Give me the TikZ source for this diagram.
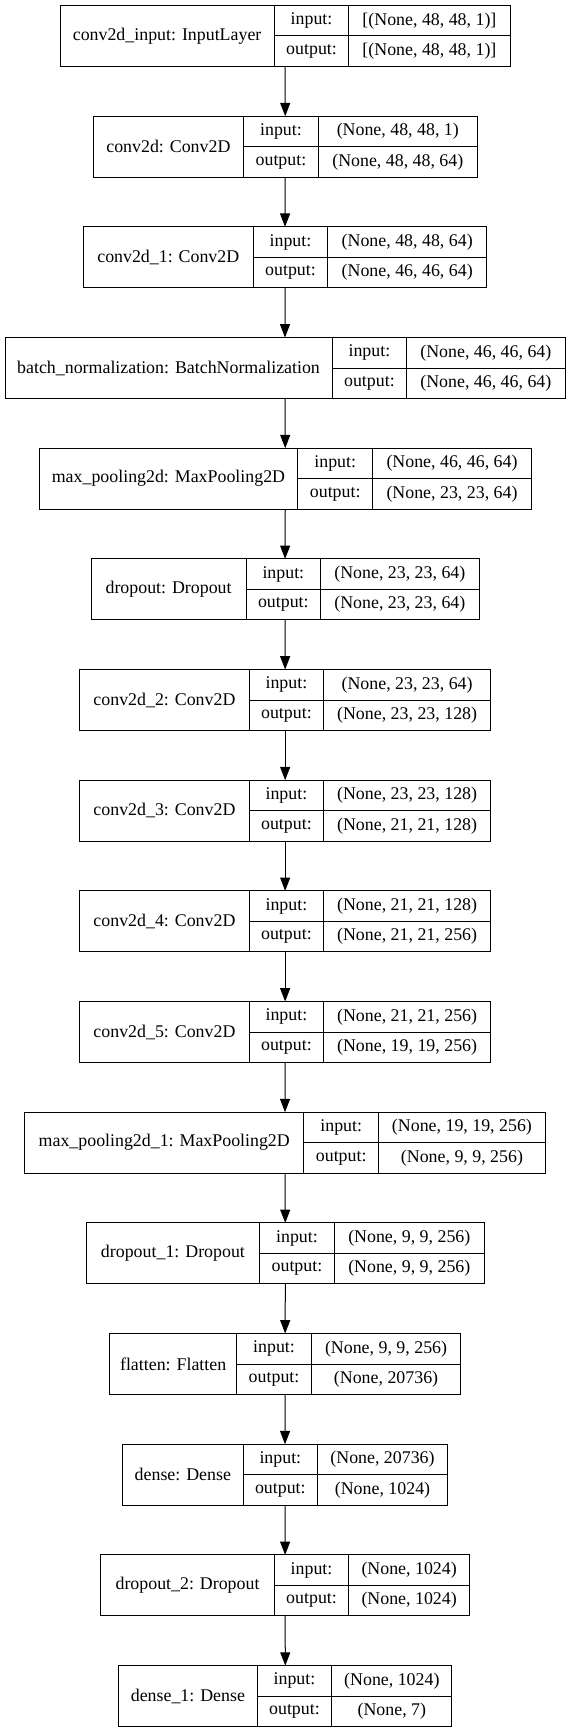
\documentclass[tikz,border=0pt]{standalone}
\usepackage{fontspec}
\setmainfont{Liberation Serif}
\usepackage{tikz}
\usetikzlibrary{positioning,arrows.meta}

% one keras record: name, top, left, divider 1, divider 2, right, label, input, output
\newcommand{\kerasrec}[9]{%
\node[layer, minimum width={(#6-#3)*0.75pt}] (#1) at (#3,#2) {};
\node[cell, minimum width={(#4-#3)*0.75pt}, minimum height=45.75pt, anchor=north west] (#1_name) at (#1.north west) {#7};
\node[cell, minimum width={(#5-#4)*0.75pt}, anchor=north west] (#1_in) at (#1_name.north east) {input:};
\node[cell, minimum width={(#5-#4)*0.75pt}] (#1_out) [below=0pt of #1_in] {output:};
\node[cell, minimum width={(#6-#5)*0.75pt}] (#1_inval) [right=0pt of #1_in] {#8};
\node[cell, minimum width={(#6-#5)*0.75pt}] (#1_outval) [below=0pt of #1_inval] {#9};
}

\begin{document}
\begin{tikzpicture}[
x=0.75pt, y=-0.75pt,
layer/.style={rectangle, draw=black, line width=0.75pt, inner sep=0pt, outer sep=0pt, minimum height=45.75pt, anchor=north west},
cell/.style={rectangle, draw=black, line width=0.75pt, inner sep=0pt, outer sep=0pt, minimum height=22.875pt, font=\fontsize{13.4}{15}\selectfont},
edge/.style={-{Triangle[length=10pt, width=7.5pt]}, line width=0.75pt}
]
\useasboundingbox (0,0) rectangle (571,1733);

%Nodes
\kerasrec{conv2d_input}{5.5}{60}{274.2}{348.9}{510}{conv2d\_input: InputLayer}{[(None, 48, 48, 1)]}{[(None, 48, 48, 1)]}
\kerasrec{conv2d}{116.2}{93.5}{243.3}{318.6}{477}{conv2d: Conv2D}{(None, 48, 48, 1)}{(None, 48, 48, 64)}
\kerasrec{conv2d_1}{226.8}{83.3}{253.3}{327.7}{486.7}{conv2d\_1: Conv2D}{(None, 48, 48, 64)}{(None, 46, 46, 64)}
\kerasrec{batch_norm}{337.5}{5}{332.1}{406.7}{565}{batch\_normalization: BatchNormalization}{(None, 46, 46, 64)}{(None, 46, 46, 64)}
\kerasrec{max_pool}{448.2}{39}{297.9}{372.5}{531.5}{max\_pooling2d: MaxPooling2D}{(None, 46, 46, 64)}{(None, 23, 23, 64)}
\kerasrec{dropout}{558.9}{91}{246.2}{320.5}{479.2}{dropout: Dropout}{(None, 23, 23, 64)}{(None, 23, 23, 64)}
\kerasrec{conv2d_2}{669.5}{79.8}{249.1}{323.7}{490.5}{conv2d\_2: Conv2D}{(None, 23, 23, 64)}{(None, 23, 23, 128)}
\kerasrec{conv2d_3}{780.2}{79.8}{249.1}{323.7}{490.5}{conv2d\_3: Conv2D}{(None, 23, 23, 128)}{(None, 21, 21, 128)}
\kerasrec{conv2d_4}{890.9}{79.8}{249.1}{323.7}{490.5}{conv2d\_4: Conv2D}{(None, 21, 21, 128)}{(None, 21, 21, 256)}
\kerasrec{conv2d_5}{1001.5}{79.8}{249.1}{323.7}{490.5}{conv2d\_5: Conv2D}{(None, 21, 21, 256)}{(None, 19, 19, 256)}
\kerasrec{max_pool_1}{1112.2}{24.8}{303.7}{378.7}{545.2}{max\_pooling2d\_1: MaxPooling2D}{(None, 19, 19, 256)}{(None, 9, 9, 256)}
\kerasrec{dropout_1}{1222.9}{86.3}{259.6}{334.3}{484.3}{dropout\_1: Dropout}{(None, 9, 9, 256)}{(None, 9, 9, 256)}
\kerasrec{flatten}{1333.5}{109.6}{236.7}{311.4}{460.7}{flatten: Flatten}{(None, 9, 9, 256)}{(None, 20736)}
\kerasrec{dense}{1444.2}{122.7}{243}{317.7}{447.3}{dense: Dense}{(None, 20736)}{(None, 1024)}
\kerasrec{dropout_2}{1554.9}{100.9}{274.2}{348.9}{469.4}{dropout\_2: Dropout}{(None, 1024)}{(None, 1024)}
\kerasrec{dense_1}{1665.6}{118.7}{257.1}{331.8}{451.9}{dense\_1: Dense}{(None, 1024)}{(None, 7)}

%Connections
\draw[edge] (conv2d_input.south) -- (conv2d.north);
\draw[edge] (conv2d.south) -- (conv2d_1.north);
\draw[edge] (conv2d_1.south) -- (batch_norm.north);
\draw[edge] (batch_norm.south) -- (max_pool.north);
\draw[edge] (max_pool.south) -- (dropout.north);
\draw[edge] (dropout.south) -- (conv2d_2.north);
\draw[edge] (conv2d_2.south) -- (conv2d_3.north);
\draw[edge] (conv2d_3.south) -- (conv2d_4.north);
\draw[edge] (conv2d_4.south) -- (conv2d_5.north);
\draw[edge] (conv2d_5.south) -- (max_pool_1.north);
\draw[edge] (max_pool_1.south) -- (dropout_1.north);
\draw[edge] (dropout_1.south) -- (flatten.north);
\draw[edge] (flatten.south) -- (dense.north);
\draw[edge] (dense.south) -- (dropout_2.north);
\draw[edge] (dropout_2.south) -- (dense_1.north);
\end{tikzpicture}
\end{document}
